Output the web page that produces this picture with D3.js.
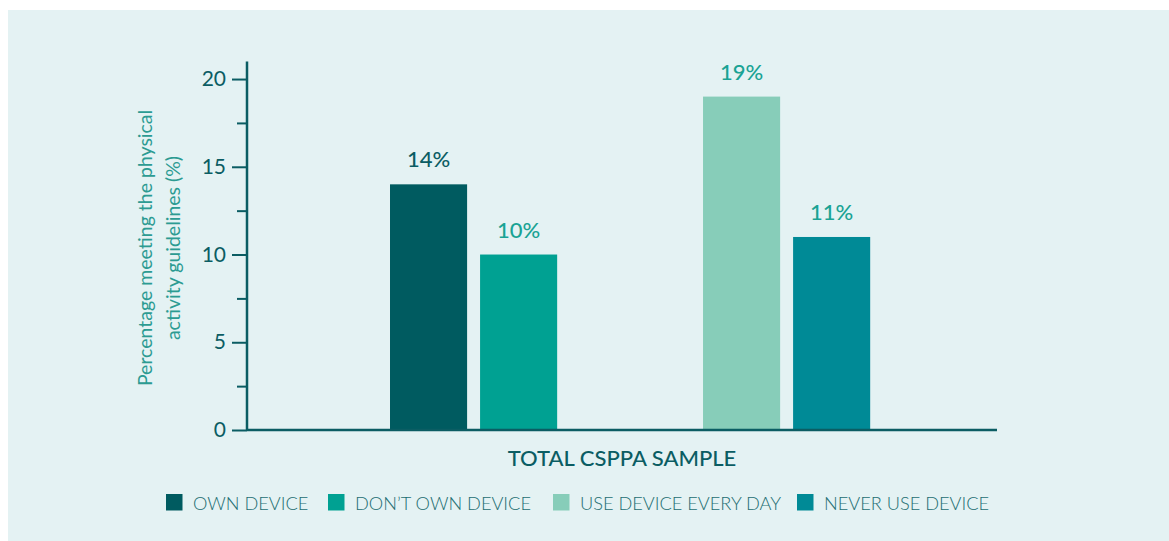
<!DOCTYPE html>
<html>
<head>
<meta charset="utf-8">
<script src="https://cdn.jsdelivr.net/npm/d3@7"></script>
<style>
  body { margin: 0; background: #fff; }
  svg { display: block; font-family: "Lato", sans-serif; }
</style>
</head>
<body>
<svg id="chart"></svg>
<script>
// data
const seriesNames = ["OWN DEVICE", "DON\u2019T OWN DEVICE", "USE DEVICE EVERY DAY", "NEVER USE DEVICE"];
const groups = ["g1", "g2"];
const groupOf = ["g1", "g1", "g2", "g2"];
const values = [14, 10, 19, 11];
const colors = ["#005b60", "#00a192", "#87cdb9", "#008a96"];
const labelColors = ["#0b5d63", "#1aa394", "#1aa394", "#1aa394"];
const yTicks = [0, 5, 10, 15, 20];
const yMinor = [2.5, 7.5, 12.5, 17.5];

const W = 1169, H = 541;
const ink = "#0b5d63";

const svg = d3.select("#chart").attr("width", W).attr("height", H);

// panel
svg.append("rect").attr("x", 8).attr("y", 10).attr("width", W - 8).attr("height", H - 10)
  .attr("fill", "#e4f2f3");

const y = d3.scaleLinear().domain([0, 21]).range([430, 61.5]);

const x0 = d3.scaleBand().domain(groups).range([247, 997])
  .paddingInner(0.466).paddingOuter(0.431).align(0.53);
const x1 = d3.scaleBand().domain([0, 1]).range([0, x0.bandwidth()]).paddingInner(0.144);

const data = values.map((v, i) => ({ name: seriesNames[i], value: v, group: groupOf[i], pos: i % 2, i }));

// bars
svg.append("g").selectAll("rect")
  .data(data)
  .join("rect")
  .attr("x", d => x0(d.group) + x1(d.pos))
  .attr("width", x1.bandwidth())
  .attr("y", d => y(d.value))
  .attr("height", d => y(0) - y(d.value))
  .attr("fill", d => colors[d.i]);

// value labels
svg.append("g").selectAll("text")
  .data(data)
  .join("text")
  .attr("x", d => x0(d.group) + x1(d.pos) + x1.bandwidth() / 2)
  .attr("y", d => y(d.value) - 17)
  .attr("text-anchor", "middle")
  .attr("font-size", 22)
  .attr("font-weight", 500)
  .attr("fill", d => labelColors[d.i])
  .text(d => d.value + "%");

// y axis
const yAxis = svg.append("g").attr("transform", "translate(247,0)")
  .call(d3.axisLeft(y).tickValues(yTicks).tickSize(15).tickPadding(6));
yAxis.select(".domain").attr("stroke", ink).attr("stroke-width", 2.5)
  .attr("d", `M0,${y(21)}V${y(0)}`);
yAxis.selectAll(".tick line").attr("stroke", ink).attr("stroke-width", 2);
yAxis.selectAll(".tick text").attr("fill", ink).attr("font-size", 21)
  .attr("font-family", "Lato, sans-serif");

const yMin = svg.append("g").attr("transform", "translate(247,0)")
  .call(d3.axisLeft(y).tickValues(yMinor).tickSize(10).tickFormat(""));
yMin.select(".domain").remove();
yMin.selectAll(".tick line").attr("stroke", ink).attr("stroke-width", 2);

// x axis line
svg.append("line").attr("x1", 247).attr("x2", 997).attr("y1", y(0)).attr("y2", y(0))
  .attr("stroke", ink).attr("stroke-width", 2.5);

// axis titles
const yTitle = svg.append("text")
  .attr("transform", `translate(152,248) rotate(-90)`)
  .attr("text-anchor", "middle")
  .attr("font-size", 19.5)
  .attr("fill", "#2c9b92");
yTitle.append("tspan").attr("x", 0).attr("dy", 0).text("Percentage meeting the physical");
yTitle.append("tspan").attr("x", 0).attr("dy", 28).text("activity guidelines (%)");

svg.append("text")
  .attr("x", 622).attr("y", 466)
  .attr("text-anchor", "middle")
  .attr("font-size", 22)
  .attr("font-weight", 500)
  .attr("fill", ink)
  .text("TOTAL CSPPA SAMPLE");

// legend
const legendX = [166, 328, 553, 797];
const lg = svg.append("g").selectAll("g")
  .data(seriesNames)
  .join("g")
  .attr("transform", (d, i) => `translate(${legendX[i]},494)`);
lg.append("rect").attr("width", 16.5).attr("height", 16.5).attr("fill", (d, i) => colors[i]);
lg.append("text").attr("x", 27).attr("y", 16)
  .attr("font-size", 18.2)
  .attr("font-weight", 300)
  .attr("fill", "#1d6e72")
  .text(d => d);
</script>
</body>
</html>
